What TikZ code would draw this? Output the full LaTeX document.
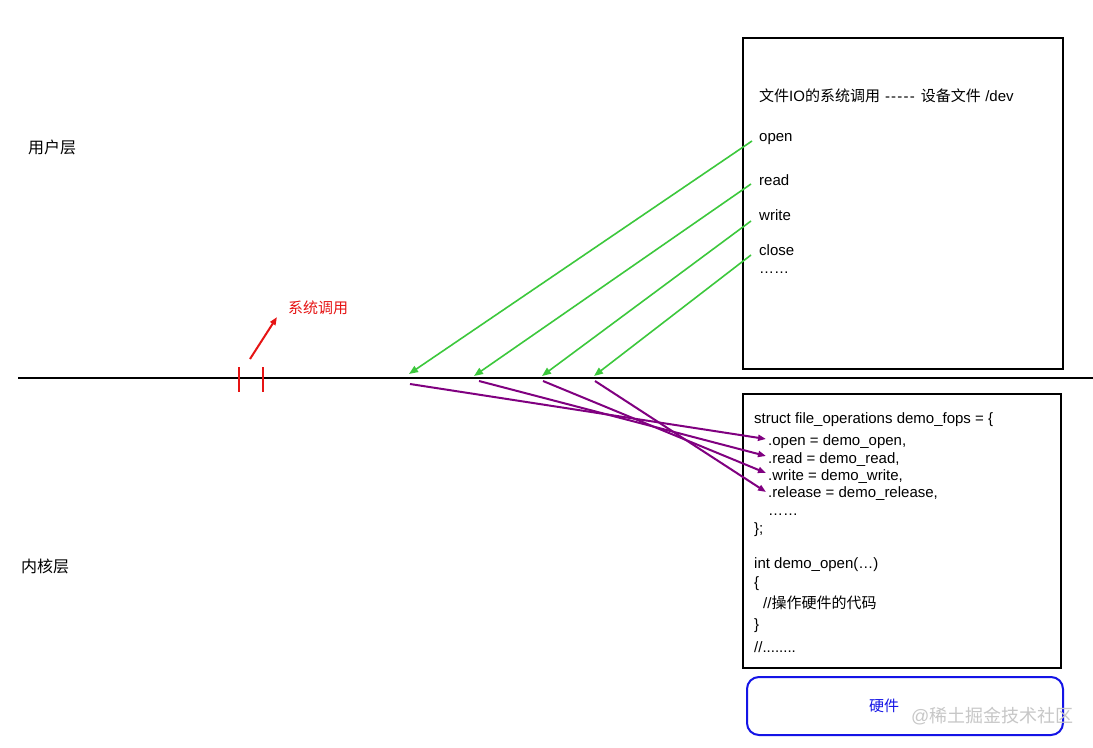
\documentclass[tikz,border=0pt]{standalone}
\usepackage{fontspec}
\setmainfont{Liberation Sans}
\newfontfamily\cjk{Noto Sans CJK SC}
\usetikzlibrary{arrows.meta}
\definecolor{lgreen}{RGB}{60,200,60}
\definecolor{lpurple}{RGB}{128,0,128}
\definecolor{lred}{RGB}{230,20,20}
\definecolor{lblue}{RGB}{20,20,230}
\begin{document}
\begin{tikzpicture}[x=1bp,y=-1bp,
  font=\fontsize{15bp}{18bp}\selectfont,
  txt/.style={anchor=west, inner sep=0pt, text height=13bp, text depth=1bp},
  box/.style={draw=black, line width=2bp},
  grnarrow/.style={draw=lgreen, line width=1.6bp, -{Triangle[length=9bp,width=7bp]}},
  purarrow/.style={draw=lpurple, line width=2bp, -{Triangle[length=8bp,width=6bp]}},
  redline/.style={draw=lred, line width=2bp}]
\useasboundingbox (0,0) rectangle (1093,748);
\fill[white] (0,0) rectangle (1093,748);

% layer labels
\node[txt, font=\fontsize{16bp}{19bp}\selectfont] (user) at (28,147) {\cjk 用户层};
\node[txt, font=\fontsize{16bp}{19bp}\selectfont] (kern) at (21,566) {\cjk 内核层};

% boundary line
\coordinate (lineL) at (18,378);
\coordinate (lineR) at (1093,378);
\draw[line width=2bp] (lineL) -- (lineR);

% system call marker
\coordinate (t1a) at (239,367); \coordinate (t1b) at (239,392);
\coordinate (t2a) at (263,367); \coordinate (t2b) at (263,392);
\draw[redline] (t1a) -- (t1b);
\draw[redline] (t2a) -- (t2b);
\node[txt, text=lred] (syscall) at (288,307) {\cjk 系统调用};
\coordinate (ra) at (250,359);
\coordinate (rb) at (277,317);
\draw[draw=lred, line width=2bp, -{Triangle[length=8bp,width=6bp]}] (ra) -- (rb);

% top box
\node[box, minimum width=320bp, minimum height=331bp, anchor=north west, inner sep=0pt] (topbox) at (742,37) {};
\node[txt] (hdr) at (759,96) {{\cjk 文件}IO{\cjk 的系统调用}\hspace{5bp}{-}\kern1.2bp{-}\kern1.2bp{-}\kern1.2bp{-}\kern1.2bp{-}\hspace{6bp}{\cjk 设备文件}\hspace{4.5bp}/dev};
\node[txt] (open) at (759,135) {open};
\node[txt] (read) at (759,179) {read};
\node[txt] (write) at (759,214) {write};
\node[txt] (close) at (759,249) {close};
\node[txt] (dots1) at (759,267) {……};

% bottom box
\node[box, minimum width=318bp, minimum height=274bp, anchor=north west, inner sep=0pt] (botbox) at (742,393) {};
\node[txt] (st) at (754,417) {struct file\_operations demo\_fops = \{};
\node[txt] (fo) at (768,439) {.open = demo\_open,};
\node[txt] (fr) at (768,457) {.read = demo\_read,};
\node[txt] (fw) at (768,474) {.write = demo\_write,};
\node[txt] (fc) at (768,491) {.release = demo\_release,};
\node[txt] (dots2) at (768,509) {……};
\node[txt] (cl) at (754,527) {\};};
\node[txt] (fn) at (754,562) {int demo\_open(…)};
\node[txt] (ob) at (754,581) {\{};
\node[txt] (cm) at (763,602) {//{\cjk 操作硬件的代码}};
\node[txt] (cb) at (754,623) {\}};
\node[txt] (ed) at (754,646) {//........};

% hardware box
\draw[draw=lblue, line width=2bp, rounded corners=12bp] (747,677) rectangle (1063,735);
\node[text=lblue, inner sep=0pt] (hw) at (884,706) {\cjk 硬件};
\node[txt, text=black!22, font=\fontsize{18bp}{21bp}\selectfont] (wm) at (911,716) {@\cjk 稀土掘金技术社区};

% green arrows
\coordinate (g1s) at (752,141); \coordinate (g1e) at (409,374);
\coordinate (g2s) at (751,184); \coordinate (g2e) at (474,376);
\coordinate (g3s) at (751,221); \coordinate (g3e) at (542,376);
\coordinate (g4s) at (751,255); \coordinate (g4e) at (594,376);
\draw[grnarrow] (g1s) -- (g1e);
\draw[grnarrow] (g2s) -- (g2e);
\draw[grnarrow] (g3s) -- (g3e);
\draw[grnarrow] (g4s) -- (g4e);

% purple arrows
\coordinate (p1s) at (410,384); \coordinate (p1e) at (766,439);
\coordinate (p2s) at (479,381); \coordinate (p2e) at (766,456);
\coordinate (p3s) at (543,381); \coordinate (p3e) at (766,473);
\coordinate (p4s) at (595,381); \coordinate (p4e) at (766,492);
\draw[purarrow] (p1s) -- (p1e);
\draw[purarrow] (p2s) -- (p2e);
\draw[purarrow] (p3s) -- (p3e);
\draw[purarrow] (p4s) -- (p4e);
\end{tikzpicture}
\end{document}
